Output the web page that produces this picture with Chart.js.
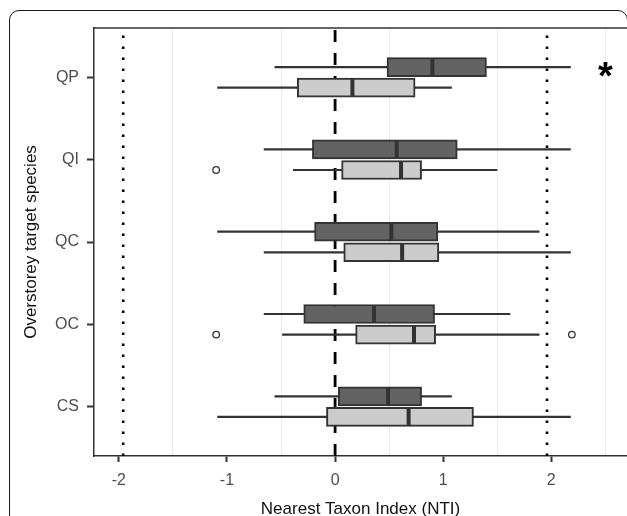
<!DOCTYPE html>
<html>
<head>
<meta charset="utf-8">
<script src="https://cdn.jsdelivr.net/npm/chart.js@4.4.1/dist/chart.umd.min.js"></script>
<style>
  html, body { margin: 0; padding: 0; background: #fff; overflow: hidden; }
  #wrap { position: relative; width: 627px; height: 516px; }
  #frame {
    position: absolute; left: 9px; top: 10px; width: 619px; height: 600px;
    border: 1.6px solid #1a1a1a; border-radius: 10px; box-sizing: border-box;
    pointer-events: none;
  }
</style>
</head>
<body>
<div id="wrap">
  <canvas id="chart"></canvas>
  <div id="frame"></div>
</div>
<script>
'use strict';

// ── DATA ───────────────────────────────────────────────────
const species = ['QP', 'QI', 'QC', 'OC', 'CS'];

// dark (upper) boxes
const darkMin    = [-0.56, -0.66, -1.09, -0.66, -0.56];
const darkQ1     = [ 0.48, -0.21, -0.19, -0.29,  0.03];
const darkMedian = [ 0.90,  0.57,  0.52,  0.36,  0.49];
const darkQ3     = [ 1.40,  1.13,  0.95,  0.92,  0.80];
const darkMax    = [ 2.18,  2.18,  1.89,  1.62,  1.08];
const darkOutliers = [[], [], [], [], []];

// light (lower) boxes
const lightMin    = [-1.09, -0.39, -0.66, -0.49, -1.09];
const lightQ1     = [-0.35,  0.06,  0.08,  0.19, -0.08];
const lightMedian = [ 0.16,  0.61,  0.62,  0.73,  0.68];
const lightQ3     = [ 0.74,  0.80,  0.96,  0.93,  1.28];
const lightMax    = [ 1.08,  1.50,  2.18,  1.89,  2.18];
const lightOutliers = [[], [-1.10], [], [-1.10, 2.19], []];

const xTickValues = [-2, -1, 0, 1, 2];
const xGridValues = [-1.5, -0.5, 0.5, 1.5, 2.5];
const dottedLines = [-1.96, 1.96];
const dashedLines = [0];
const marks = [{ text: '*', species: 'QP', x: 2.5 }];

// ── STYLE ──────────────────────────────────────────────────
const FONT = "'Liberation Sans', Arial, sans-serif";
const INK = '#333333';
const DODGE = 0.125;
Chart.defaults.font.family = FONT;

// ── DATASETS ───────────────────────────────────────────────
function boxDatasets(q1, med, q3, lo, hi, outl, shift, fill) {
  const pos = i => i + shift;
  const out = [];
  species.forEach((s, i) => {
    out.push({
      type: 'line', order: 4,
      data: [{ x: lo[i], y: pos(i) }, { x: hi[i], y: pos(i) }],
      borderColor: INK, borderWidth: 2.2, pointRadius: 0
    });
  });
  out.push({
    type: 'bar', order: 3, indexAxis: 'y', grouped: false,
    data: species.map((s, i) => ({ x: [q1[i], q3[i]], y: pos(i) })),
    backgroundColor: fill, borderColor: INK, borderWidth: 2,
    borderSkipped: false, barThickness: 19
  });
  out.push({
    type: 'scatter', order: 2,
    data: species.map((s, i) => ({ x: med[i], y: pos(i) })),
    pointStyle: 'line', rotation: 90, radius: 8.5,
    borderColor: INK, borderWidth: 4
  });
  out.push({
    type: 'scatter', order: 1,
    data: outl.flatMap((vals, i) => vals.map(v => ({ x: v, y: pos(i) }))),
    pointStyle: 'circle', radius: 3.3,
    backgroundColor: '#fff', borderColor: INK, borderWidth: 1.3
  });
  return out;
}

function refLine(v, dash, width) {
  return {
    type: 'line', order: 5,
    data: [{ x: v, y: 4.6 }, { x: v, y: -0.6 }],
    borderColor: '#000', borderWidth: width, borderDash: dash,
    pointRadius: 0, borderCapStyle: 'butt'
  };
}

const datasets = [
  ...dottedLines.map(v => refLine(v, [2.6, 8.4], 2.6)),
  ...dashedLines.map(v => refLine(v, [12, 11], 2.8)),
  ...boxDatasets(darkQ1, darkMedian, darkQ3, darkMin, darkMax, darkOutliers, -DODGE, '#636363'),
  ...boxDatasets(lightQ1, lightMedian, lightQ3, lightMin, lightMax, lightOutliers, DODGE, '#cccccc')
];

// ── PLUGIN: panel top border + significance mark ──────────
const extras = {
  id: 'extras',
  afterDraw(chart) {
    const { ctx, chartArea, scales: { x, y } } = chart;
    ctx.save();
    ctx.strokeStyle = INK;
    ctx.lineWidth = 1.5;
    ctx.beginPath();
    ctx.moveTo(chartArea.left - 0.75, chartArea.top);
    ctx.lineTo(chartArea.right, chartArea.top);
    ctx.stroke();

    ctx.fillStyle = '#000';
    ctx.font = 'bold 38px ' + FONT;
    ctx.textAlign = 'center';
    ctx.textBaseline = 'alphabetic';
    marks.forEach(m => {
      const cx = x.getPixelForValue(m.x);
      const cy = y.getPixelForValue(species.indexOf(m.species)) - 8;
      const mt = ctx.measureText(m.text);
      const base = cy + (mt.actualBoundingBoxAscent - mt.actualBoundingBoxDescent) / 2;
      ctx.fillText(m.text, cx, base);
    });
    ctx.restore();
  }
};

// ── CHART ──────────────────────────────────────────────────
const allXTicks = [...xTickValues, ...xGridValues].sort((a, b) => a - b);
const isMajor = v => xTickValues.includes(v);

new Chart(document.getElementById('chart'), {
  type: 'scatter',
  data: { datasets },
  options: {
    responsive: true,
    maintainAspectRatio: false,
    animation: false,
    layout: { autoPadding: false, padding: { top: 28, left: 0, right: 0, bottom: 0 } },
    plugins: { legend: { display: false }, tooltip: { enabled: false } },
    scales: {
      x: {
        type: 'linear', min: -2.23, max: 2.70, offset: false,
        afterBuildTicks: s => { s.ticks = allXTicks.map(v => ({ value: v })); },
        afterFit: s => { s.height = 60; s.paddingLeft = 0; s.paddingRight = 0; },
        ticks: {
          autoSkip: false, maxRotation: 0, color: '#4d4d4d',
          font: { size: 16 }, padding: 9,
          callback: v => isMajor(v) ? String(v) : ''
        },
        grid: {
          offset: false,
          color: c => (c.tick && !isMajor(c.tick.value)) ? '#ebebeb' : 'rgba(0,0,0,0)',
          tickColor: c => (c.tick && isMajor(c.tick.value)) ? INK : 'rgba(0,0,0,0)',
          lineWidth: 1, tickWidth: 2, tickLength: 6
        },
        border: { color: INK, width: 1.5 },
        title: {
          display: true, text: 'Nearest Taxon Index (NTI)', color: '#111',
          font: { size: 17 }, padding: { top: 0, bottom: -4 }
        }
      },
      y: {
        type: 'linear', min: -0.6, max: 4.6, reverse: true, offset: false,
        afterBuildTicks: s => { s.ticks = species.map((sp, i) => ({ value: i })); },
        afterFit: s => { s.width = 94; s.paddingTop = 0; s.paddingBottom = 0; },
        ticks: {
          autoSkip: false, color: '#4d4d4d', font: { size: 16 }, padding: 8,
          callback: v => species[v]
        },
        grid: { offset: false, drawOnChartArea: false, tickColor: INK, tickWidth: 2, tickLength: 7 },
        border: { color: INK, width: 1.5 },
        title: {
          display: true, text: 'Overstorey target species', color: '#111',
          font: { size: 17 }, padding: { top: 21.5, bottom: 0 }
        }
      }
    }
  },
  plugins: [extras]
});
</script>
</body>
</html>
